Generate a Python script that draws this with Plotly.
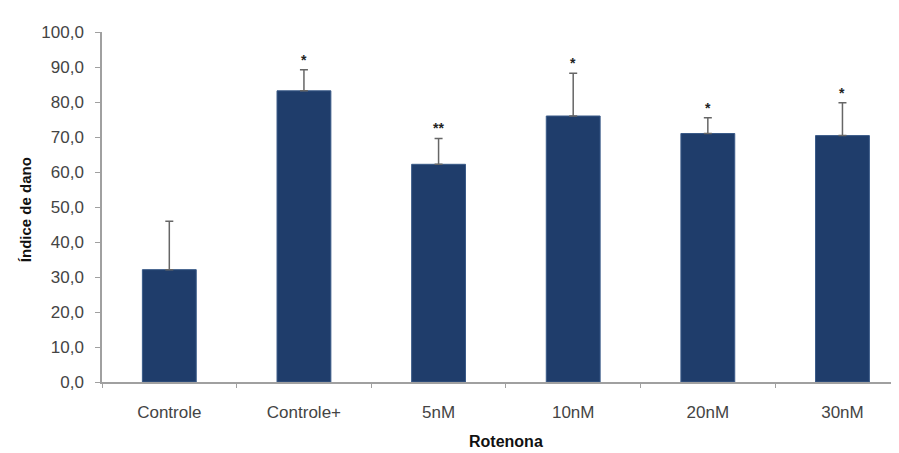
import plotly.graph_objects as go

categories = ["Controle", "Controle+", "5nM", "10nM", "20nM", "30nM"]
values = [32.1, 83.2, 62.2, 76.0, 71.0, 70.4]
errors = [13.8, 6.0, 7.4, 12.2, 4.5, 9.4]
stars = ["", "*", "**", "*", "*", "*"]

FONT = "Liberation Sans, Arial"

fig = go.Figure()
fig.add_trace(go.Bar(
    x=categories, y=values,
    width=0.4,
    marker=dict(color="#1f3d6b", line=dict(color="#3a5a88", width=1)),
    error_y=dict(type="data", array=errors, arrayminus=[0]*len(errors),
                 symmetric=False, color="#666666", thickness=1.5, width=4),
    showlegend=False,
))

for c, v, e, s in zip(categories, values, errors, stars):
    if s:
        fig.add_annotation(x=c, y=v + e, text="<b>" + s + "</b>", showarrow=False,
                           yanchor="bottom", yshift=0,
                           font=dict(family=FONT, size=14, color="#222"))

fig.add_annotation(x=2.5, y=0, xref="x", yref="paper", text="<b>Rotenona</b>",
                   showarrow=False, yanchor="middle", yshift=-59,
                   font=dict(family=FONT, size=16, color="#111"))
fig.add_annotation(x=-0.0966, y=0.491, xref="paper", yref="paper", text="<b>Índice de dano</b>",
                   showarrow=False, textangle=-90, xanchor="center", yanchor="middle",
                   font=dict(family=FONT, size=15, color="#111"))

fig.update_layout(
    width=899, height=453,
    margin=dict(l=94, r=8, t=24, b=79),
    plot_bgcolor="white", paper_bgcolor="white",
    separators=",.",
    font=dict(family=FONT, size=16, color="#444"),
)
fig.update_xaxes(
    type="category", range=[-0.5, 5.42],
    showline=True, linecolor="#a0a0a0", linewidth=1.5,
    ticks="outside", tickson="boundaries", ticklen=4, tickcolor="#a0a0a0",
    tickfont=dict(size=17, color="#444"), ticklabelstandoff=14,
    showgrid=False, zeroline=False,
)
fig.update_yaxes(
    range=[0, 100], dtick=10, tickformat=".1f",
    showline=True, linecolor="#a0a0a0", linewidth=1.5,
    ticks="outside", ticklen=5, tickcolor="#a0a0a0",
    tickfont=dict(size=17, color="#444"), ticklabelstandoff=8,
    showgrid=False, zeroline=False,
)

fig.write_html("out.html")
